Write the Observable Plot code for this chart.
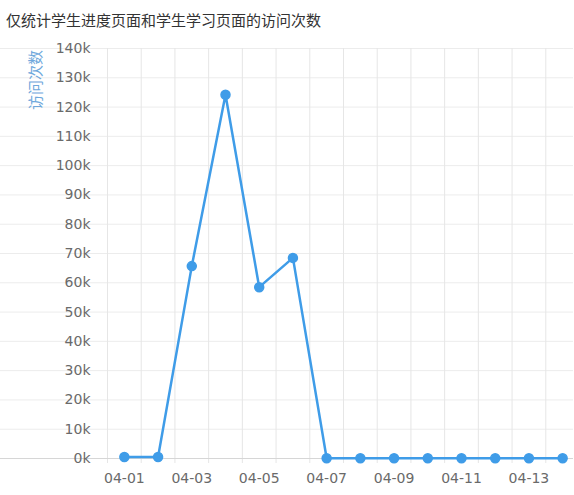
<!DOCTYPE html>
<html>
<head>
<meta charset="utf-8">
<script src="https://cdn.jsdelivr.net/npm/d3@7"></script>
<script src="https://cdn.jsdelivr.net/npm/@observablehq/plot@0.6"></script>
<style>
  html, body { margin: 0; padding: 0; background: #fff; overflow: hidden; }
  #title { height: 34px; padding-left: 6px; font: 15px "Noto Sans CJK SC", sans-serif; line-height: 40px; color: #333; box-sizing: border-box; white-space: nowrap; }
  #chart { position: relative; }
</style>
</head>
<body>
<div id="title">仅统计学生进度页面和学生学习页面的访问次数</div>
<div id="chart"></div>
<script>
const days = ["04-01","04-02","04-03","04-04","04-05","04-06","04-07","04-08","04-09","04-10","04-11","04-12","04-13","04-14"];
const visits = [500, 500, 65700, 124200, 58500, 68500, 60, 60, 60, 60, 60, 60, 60, 60];
const yTicks = [0,10000,20000,30000,40000,50000,60000,70000,80000,90000,100000,110000,120000,130000,140000];
const yLabel = "访问次数";

const data = days.map((d, i) => ({i: i + 1, day: d, v: visits[i]}));
const boundaries = d3.range(0, days.length + 1).map(k => k + 0.5);
const labelData = data.filter((d, k) => k % 2 === 0);

const W = 574, H = 461;
const font = '"Noto Sans CJK SC", "Open Sans", sans-serif';
const tickFont = '"DejaVu Sans", sans-serif';
const color = "#3f9ce8";

const chart = Plot.plot({
  width: W,
  height: H,
  style: {fontFamily: font, fontSize: "13px", color: "#666", background: "#fff"},
  x: {type: "linear", domain: [0.5, days.length + 0.5], range: [107, 579], axis: null},
  y: {type: "linear", domain: [0, 140000], range: [424, 14], axis: null},
  marks: [
    // horizontal grid
    Plot.ruleY(yTicks.slice(1), {stroke: "#ececec", strokeWidth: 1}),
    // vertical grid extending into tick marks below axis
    Plot.ruleX(boundaries, {y1: () => 140000, y2: () => 0, insetBottom: -5, stroke: "#e6e6e6", strokeWidth: 1}),
    // x axis line
    Plot.ruleY([0], {stroke: "#d6d6d6", strokeWidth: 1}),
    // y tick labels
    Plot.text(yTicks, {x: () => 0.5, y: d => d, text: d => (d / 1000) + "k", textAnchor: "end", dx: -17, fill: "#6a6a6a", fontSize: 14, fontFamily: tickFont}),
    // x tick labels
    Plot.text(labelData, {x: "i", y: () => 0, text: "day", dy: 20, fill: "#6a6a6a", fontSize: 14, fontFamily: tickFont}),
    // line + points
    Plot.line(data, {x: "i", y: "v", stroke: color, strokeWidth: 2.5}),
    Plot.dot(data, {x: "i", y: "v", r: 4.5, fill: color, stroke: color})
  ]
});
document.getElementById("chart").appendChild(chart);

// y axis title
const svg = d3.select(chart);
svg.append("text")
  .attr("transform", "translate(41,46) rotate(-90)")
  .attr("text-anchor", "middle")
  .attr("fill", "#6fa8dc")
  .attr("font-size", 15)
  .attr("font-family", font)
  .text(yLabel);
</script>
</body>
</html>
